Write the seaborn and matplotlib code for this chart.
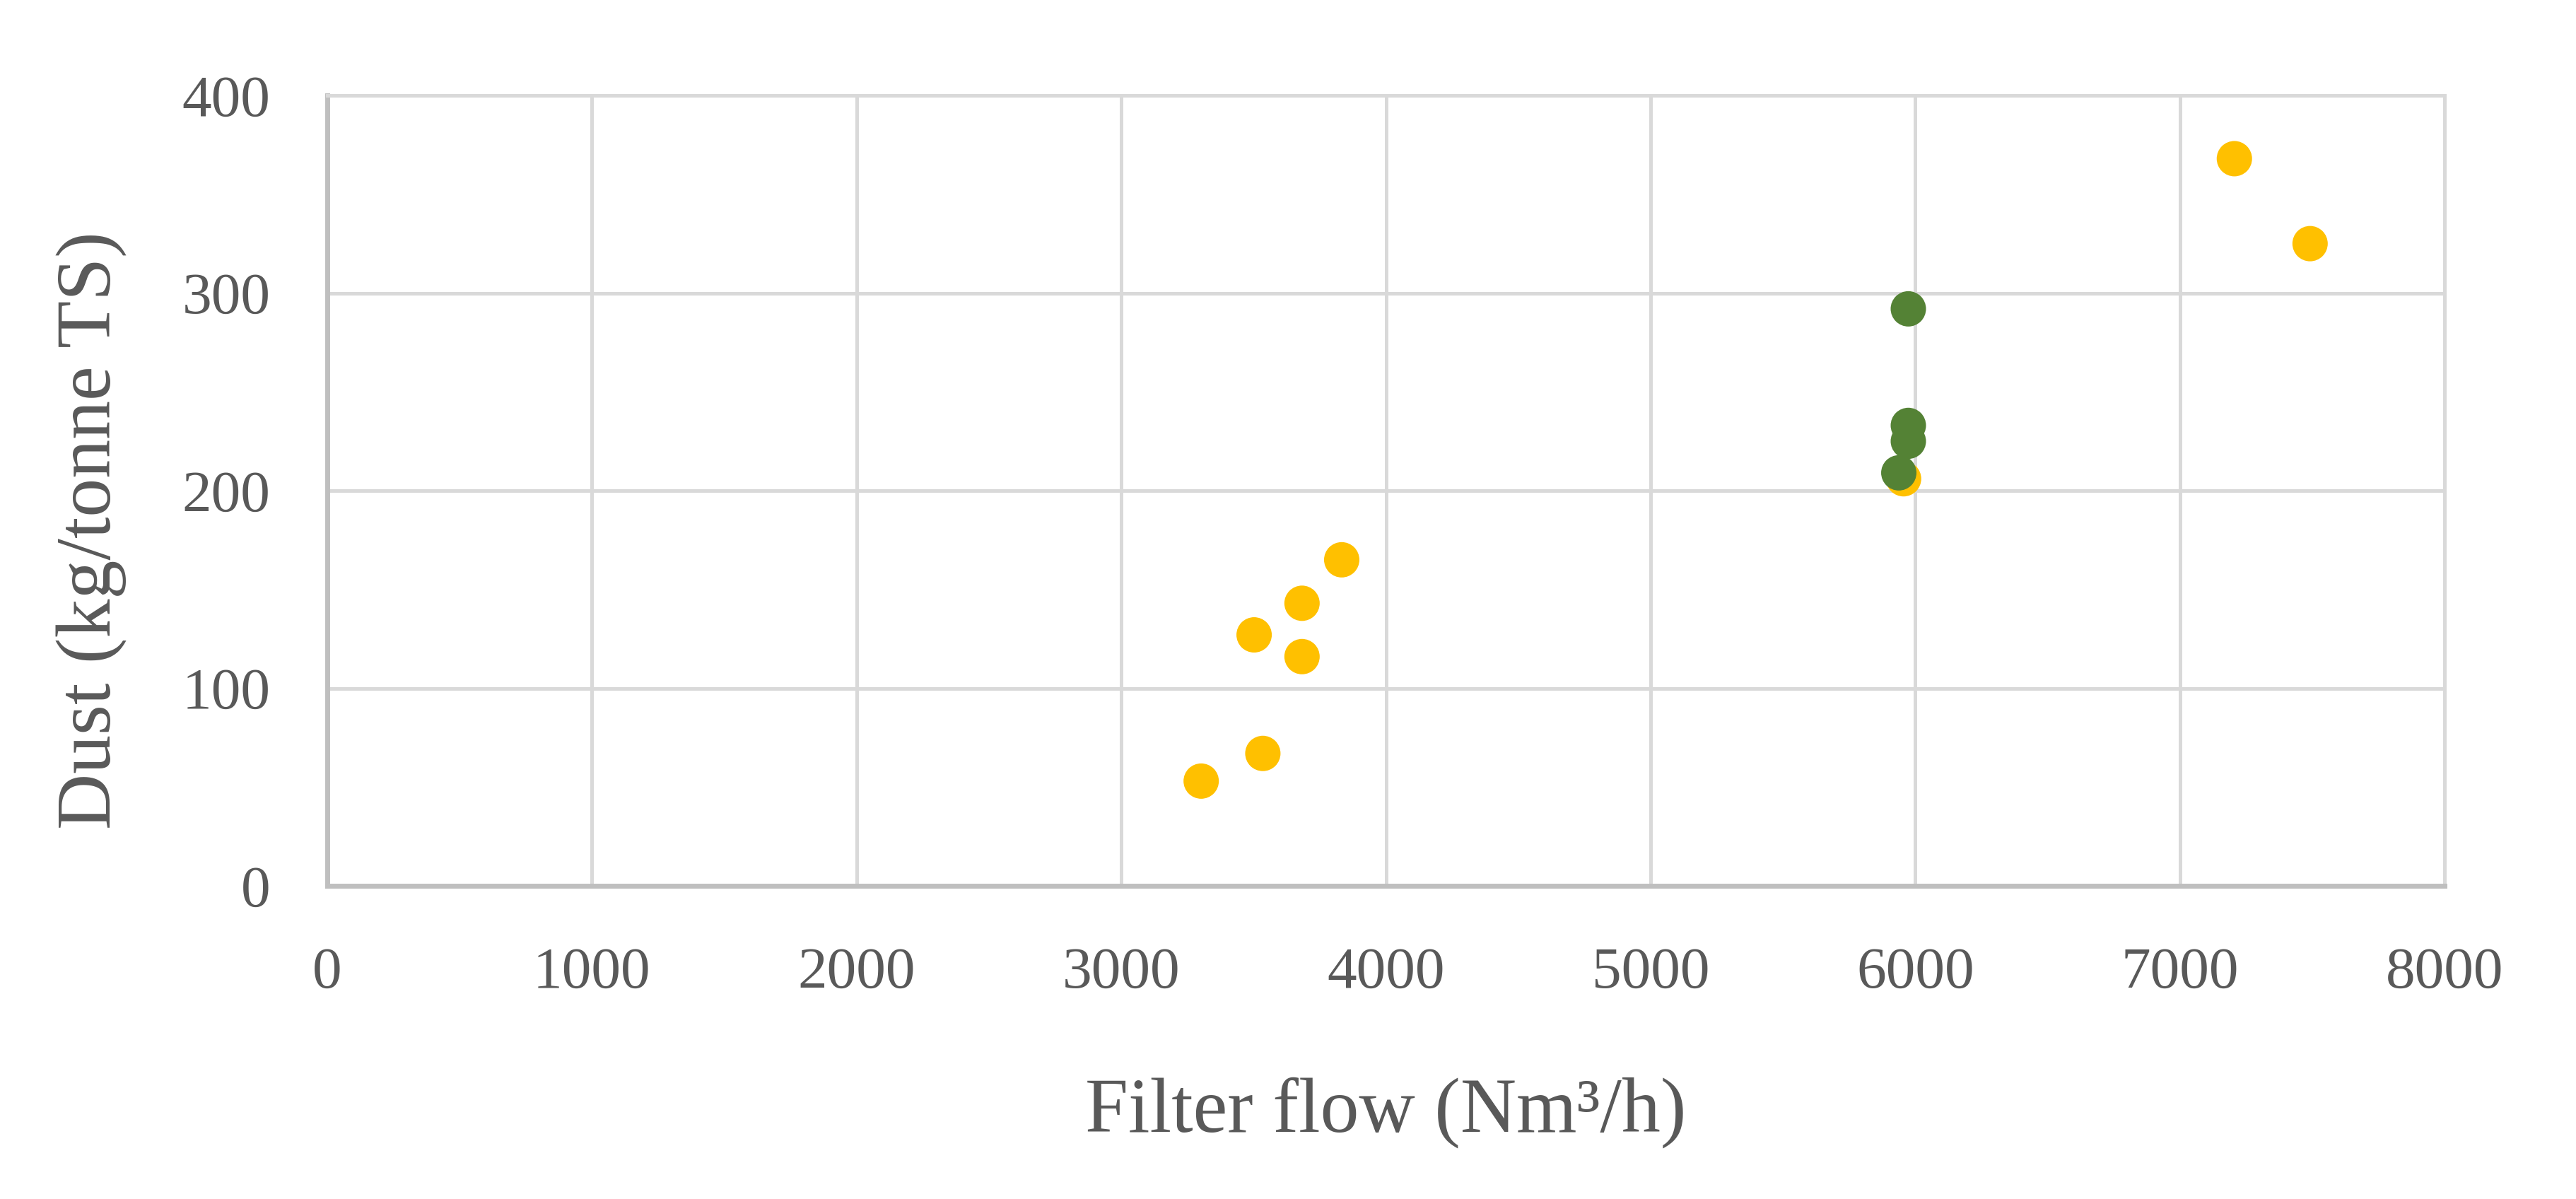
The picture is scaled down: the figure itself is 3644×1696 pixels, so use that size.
import matplotlib.pyplot as plt
import pandas as pd
import seaborn as sns


# Filter flow (Nm3/h) and dust (kg/tonne TS)
YELLOW_FLOW = [3302, 3535, 3502, 3683, 3683, 3833, 5956, 7206, 7492]
YELLOW_DUST = [53, 67, 127, 116, 143, 165, 206, 368, 325]
GREEN_FLOW = [5974, 5974, 5974, 5938]
GREEN_DUST = [292, 233, 225, 209]

X_TICKS = [0, 1000, 2000, 3000, 4000, 5000, 6000, 7000, 8000]
Y_TICKS = [0, 100, 200, 300, 400]

PALETTE = {"yellow": "#FFC000", "green": "#548235"}
TEXT_COLOR = "#595959"
GRID_COLOR = "#D9D9D9"
AXIS_COLOR = "#BFBFBF"

sns.set_theme(style="white")
plt.rcParams["font.family"] = ["Liberation Serif", "DejaVu Serif"]


def build_dataset() -> pd.DataFrame:
    yellow = pd.DataFrame({"flow": YELLOW_FLOW, "dust": YELLOW_DUST, "group": "yellow"})
    green = pd.DataFrame({"flow": GREEN_FLOW, "dust": GREEN_DUST, "group": "green"})
    # yellow first so the green points sit on top of the hidden yellow one
    return pd.concat([yellow, green], ignore_index=True)


def main() -> None:
    df = build_dataset()
    fig, ax = plt.subplots(figsize=(36.44, 16.96), dpi=100)
    fig.subplots_adjust(left=463 / 3644, right=3458 / 3644, top=1 - 135 / 1696, bottom=1 - 1253 / 1696)

    sns.scatterplot(
        data=df, x="flow", y="dust", hue="group", palette=PALETTE,
        s=1296, linewidth=0, legend=False, ax=ax, zorder=3,
    )

    ax.set_xlim(0, 8000)
    ax.set_ylim(0, 400)
    ax.set_xticks(X_TICKS)
    ax.set_yticks(Y_TICKS)
    ax.grid(True, color=GRID_COLOR, linewidth=3.6)
    ax.set_axisbelow(True)
    ax.tick_params(axis="both", length=0, labelsize=60, labelcolor=TEXT_COLOR)
    ax.tick_params(axis="x", pad=62)
    ax.tick_params(axis="y", pad=58)

    for side in ["top", "right"]:
        ax.spines[side].set_color(GRID_COLOR)
        ax.spines[side].set_linewidth(3.6)
    for side in ["left", "bottom"]:
        ax.spines[side].set_color(AXIS_COLOR)
        ax.spines[side].set_linewidth(5)

    ax.set_xlabel("Filter flow (Nm³/h)", fontsize=79, color=TEXT_COLOR, labelpad=78)
    ax.set_ylabel("Dust (kg/tonne TS)", fontsize=79, color=TEXT_COLOR)
    # the title in the reference sits a little below the middle of the plot
    ax.yaxis.set_label_coords(-0.0945, 0.45)

    fig.savefig("out.png", dpi=100)
    plt.close(fig)


if __name__ == "__main__":
    main()
